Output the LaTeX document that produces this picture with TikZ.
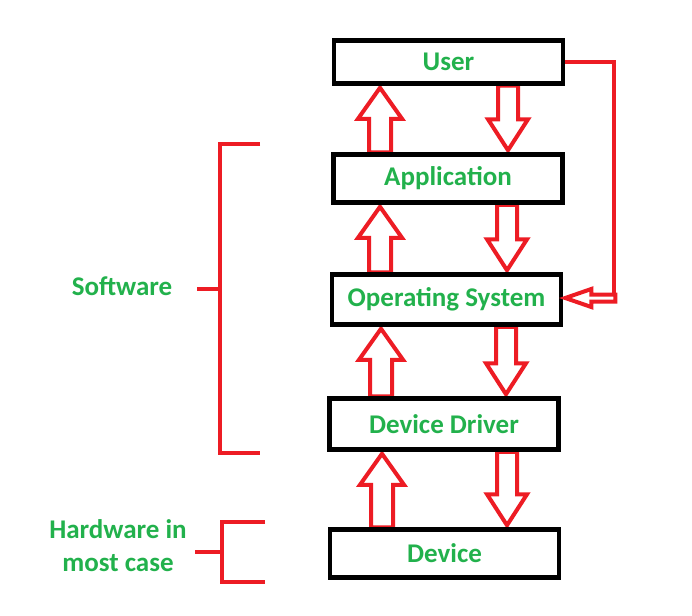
\documentclass[tikz,border=0pt]{standalone}
\usepackage{fontspec}
\setmainfont{Carlito}
\usepackage{tikz}
\usetikzlibrary{positioning, calc, backgrounds}
\definecolor{paintred}{RGB}{237,28,36}
\definecolor{paintgreen}{RGB}{34,177,76}
\tikzstyle{redline}=[draw=paintred, line width=4pt]
% hollow block arrows between two boxes: #1 x, #2 lower box, #3 upper box
\newcommand{\blockup}[3]{%
  \draw[redline, fill=white] let \p1=(#2.north), \p2=(#3.south) in
    (#1-11pt,\y1) -- (#1-11pt,\y2-33pt) -- (#1-22pt,\y2-33pt) -- (#1pt,\y2-2pt)
    -- (#1+22pt,\y2-33pt) -- (#1+11pt,\y2-33pt) -- (#1+11pt,\y1) -- cycle;}
\newcommand{\blockdown}[3]{%
  \draw[redline, fill=white] let \p1=(#2.north), \p2=(#3.south) in
    (#1-10pt,\y2) -- (#1-10pt,\y1+33pt) -- (#1-20pt,\y1+33pt) -- (#1pt,\y1+2pt)
    -- (#1+20pt,\y1+33pt) -- (#1+10pt,\y1+33pt) -- (#1+10pt,\y2) -- cycle;}

\begin{document}
\begin{tikzpicture}[x=1pt, y=-1pt]
            \tikzset {
                basic node/.style={
                        draw,
                        line width=4.5pt,
                        font=\fontsize{27}{30}\selectfont\bfseries,
                        text=paintgreen,
                        align=center,
                        minimum width=229pt,
                        inner sep=0pt
                    },
                label text/.style={
                        font=\fontsize{27}{33}\selectfont\bfseries,
                        text=paintgreen,
                        align=center
                    }}
            \useasboundingbox (0,0) rectangle (692,615);

            % layers
            \node[basic node, minimum height=43pt] (user) at (448.5,62) {User};
            \node[basic node, minimum height=48pt] (application) at (448,178.5) {Application};
            \node[basic node, minimum height=50pt] (os) at (446.5,299.5) {Operating System};
            \node[basic node, minimum height=51pt] (driver) at (444,424) {Device Driver};
            \node[basic node, minimum height=48pt] (device) at (444.5,553.5) {Device};

            % arrows between layers
            \begin{scope}[on background layer]
                \blockup{380}{application}{user}
                \blockdown{508}{application}{user}
                \blockup{380}{os}{application}
                \blockdown{507}{os}{application}
                \blockup{381}{driver}{os}
                \blockdown{506}{driver}{os}
                \blockup{382}{device}{driver}
                \blockdown{507}{device}{driver}
            \end{scope}

            % user straight to os
            \coordinate (bend) at (614,298);
            \draw[redline] (user.east) -| (bend);
            \draw[redline, fill=white] ($(os.east)+(2,-1.5)$) -- ++(26,-9) -- ++(0,5.5) -- ++(24,0)
                -- ++(0,7) -- ++(-24,0) -- ++(0,5.5) -- cycle;

            % Software
            \node[label text] (software) at (122,286) {Software};
            \draw[redline] (260,144) -- (220,144) -- (220,453) -- (260,453);
            \draw[redline] (197,289) -- (220,289);
            % Hardware
            \node[label text] (hardware) at (118,546) {Hardware in\\most case};
            \draw[redline] (265,522) -- (222,522) -- (222,582) -- (265,582);
            \draw[redline] (195,552) -- (222,552);
        \end{tikzpicture}
\end{document}
